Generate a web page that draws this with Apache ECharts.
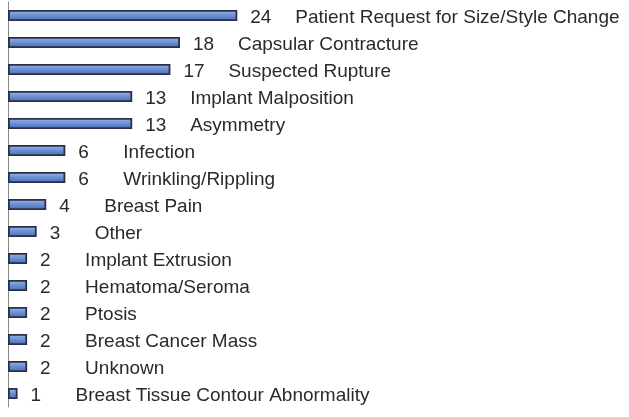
<!DOCTYPE html>
<html>
<head>
<meta charset="utf-8">
<script src="https://cdn.jsdelivr.net/npm/echarts@6/dist/echarts.min.js"></script>
<style>
  html, body { margin: 0; padding: 0; background: #fff; }
  #chart { width: 629px; height: 417px; }
</style>
</head>
<body>
<div id="chart"></div>
<script>
const categories = [
  'Patient Request for Size/Style Change',
  'Capsular Contracture',
  'Suspected Rupture',
  'Implant Malposition',
  'Asymmetry',
  'Infection',
  'Wrinkling/Rippling',
  'Breast Pain',
  'Other',
  'Implant Extrusion',
  'Hematoma/Seroma',
  'Ptosis',
  'Breast Cancer Mass',
  'Unknown',
  'Breast Tissue Contour Abnormality'
];
const counts = [24, 18, 17, 13, 13, 6, 6, 4, 3, 2, 2, 2, 2, 2, 1];

const chart = echarts.init(document.getElementById('chart'));

chart.setOption({
  animation: false,
  backgroundColor: '#fff',
  grid: {
    left: 8,
    right: 0,
    top: 2,
    bottom: 10
  },
  xAxis: {
    type: 'value',
    min: 0,
    max: 65,
    show: false
  },
  yAxis: {
    type: 'category',
    data: categories,
    inverse: true,
    axisLine: { show: true, lineStyle: { color: '#8a8a8a', width: 1 } },
    axisTick: { show: false },
    axisLabel: { show: false }
  },
  series: [{
    type: 'bar',
    data: counts,
    barWidth: 11,
    itemStyle: {
      color: new echarts.graphic.LinearGradient(0, 0, 0, 1, [
        { offset: 0, color: '#9cbbea' },
        { offset: 0.5, color: '#6a8fd3' },
        { offset: 1, color: '#4a6ab0' }
      ]),
      borderColor: '#2b3048',
      borderWidth: 1.8
    },
    label: {
      show: true,
      position: 'right',
      distance: 13,
      offset: [0, 2],
      formatter: (p) => '{v|' + p.value + '}{c|' + p.name + '}',
      rich: {
        v: {
          width: 45,
          fontFamily: 'Liberation Sans',
          fontSize: 19,
          color: '#2a2a2a'
        },
        c: {
          fontFamily: 'Liberation Sans',
          fontSize: 19,
          color: '#2a2a2a'
        }
      }
    }
  }]
});
</script>
</body>
</html>
